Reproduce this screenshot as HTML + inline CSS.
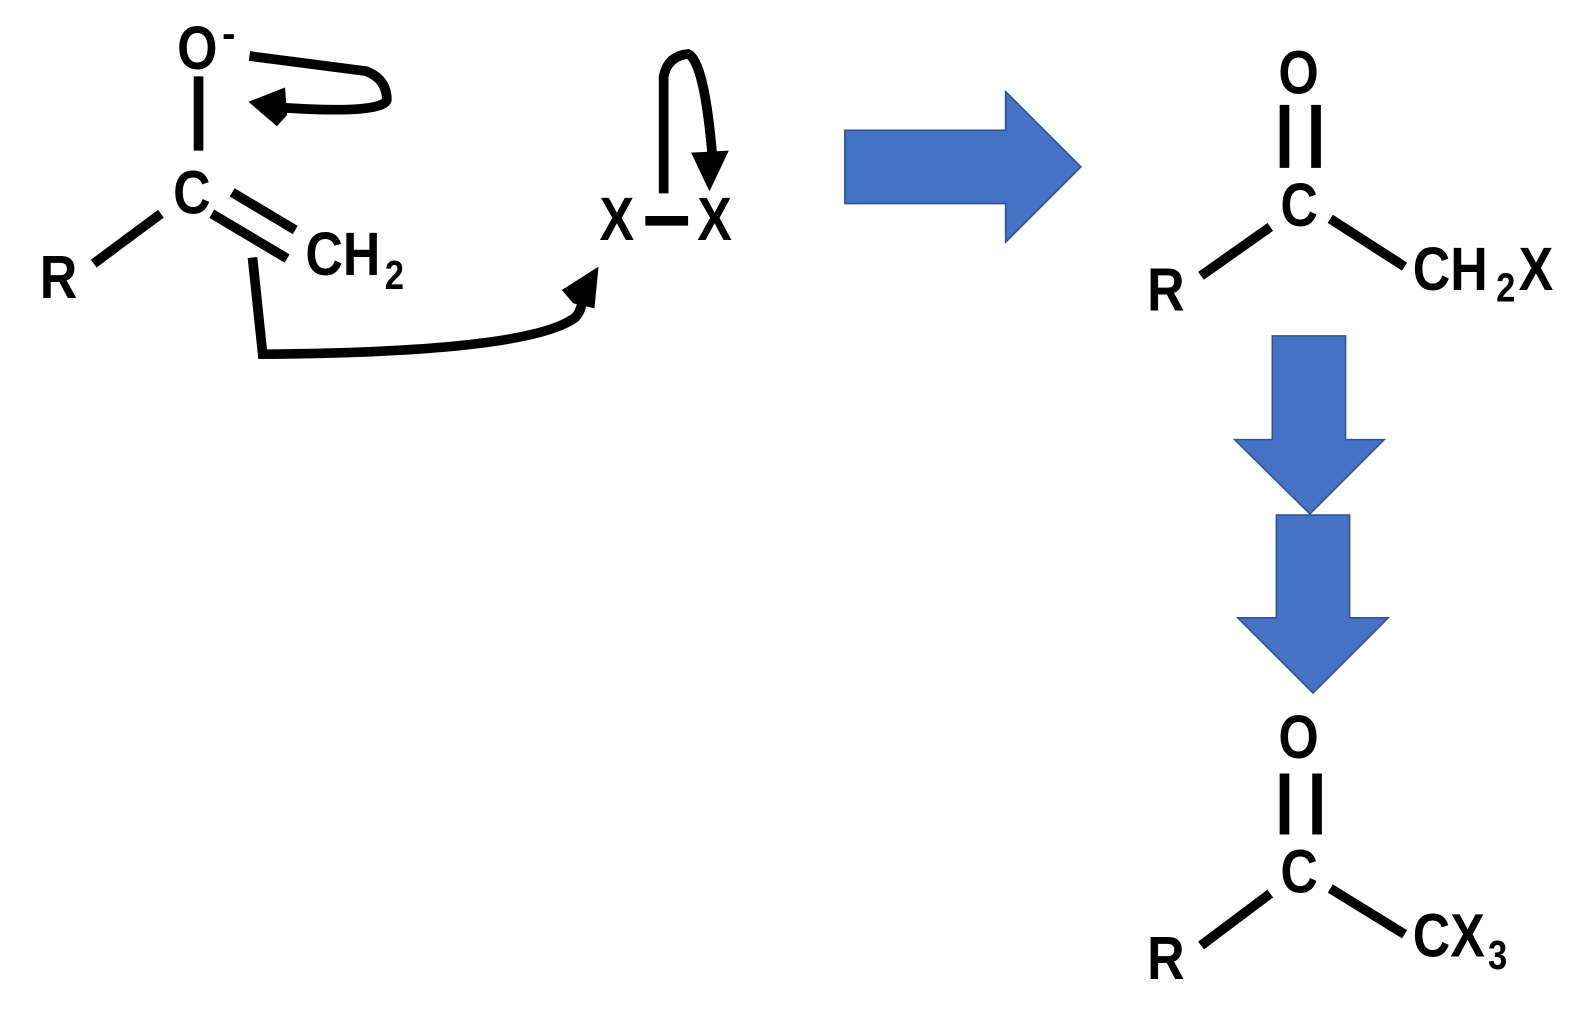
<!DOCTYPE html>
<html><head><meta charset="utf-8"><style>
html,body{margin:0;padding:0;background:#fff;}
svg{display:block;}
text{font-family:"Liberation Sans",sans-serif;font-weight:bold;fill:#000;}
</style></head><body>
<svg width="1596" height="1032" viewBox="0 0 1568 1014" xmlns="http://www.w3.org/2000/svg">
<g stroke="#000" stroke-width="9.5" fill="none">
<line x1="195" y1="75" x2="195" y2="148"/>
<line x1="92" y1="259" x2="158" y2="210"/>
<line x1="208" y1="210" x2="282" y2="254"/>
<line x1="228" y1="189" x2="290" y2="226"/>
<path d="M245 55 L360 70 Q380 78 380 98 Q376 112 280 106"/>
<path d="M248 253 L258 348 Q520 346 565 312 Q572 305 572 292"/>
<path d="M652 190 L652 75 Q656 55 676 53 Q692 60 700 155"/>
<line x1="634" y1="217" x2="676" y2="217"/>
<line x1="1262" y1="103" x2="1262" y2="165"/>
<line x1="1293" y1="103" x2="1293" y2="165"/>
<line x1="1180" y1="271" x2="1248" y2="223"/>
<line x1="1307" y1="215" x2="1380" y2="262"/>
<line x1="1262" y1="760" x2="1262" y2="820"/>
<line x1="1294" y1="760" x2="1294" y2="820"/>
<line x1="1180" y1="929" x2="1248" y2="878"/>
<line x1="1307" y1="873" x2="1380" y2="918"/>
</g>
<polygon points="244,100 280,86 282,113 272,124" fill="#000"/>
<polygon points="588,262 584,303 563,298 552,285" fill="#000"/>
<polygon points="697,188 679,150 716,148" fill="#000"/>
<g fill="#4472C4" stroke="#2F528F" stroke-width="1.5">
<polygon points="830,128 988,128 988,90 1062,164 988,238 988,200 830,200"/>
<polygon points="1250,330 1322,330 1322,432 1360,432 1287,505 1213,432 1250,432"/>
<polygon points="1254,506 1326,506 1326,607 1364,607 1290,681 1216,607 1254,607"/>
</g>
<g font-size="60">
<text transform="translate(174 68) scale(.85 1)">O</text>
<text transform="translate(170 210) scale(.85 1)">C</text>
<text transform="translate(39 293) scale(.85 1)">R</text>
<text transform="translate(300 270) scale(.85 1)">CH</text>
<text transform="translate(589 236) scale(.85 1)">X</text>
<text transform="translate(685 236) scale(.85 1)">X</text>
<text transform="translate(1256 92) scale(.85 1)">O</text>
<text transform="translate(1258 222) scale(.85 1)">C</text>
<text transform="translate(1127 305) scale(.85 1)">R</text>
<text transform="translate(1388 285) scale(.85 1)">CH</text>
<text transform="translate(1492 285) scale(.85 1)">X</text>
<text transform="translate(1256 745) scale(.85 1)">O</text>
<text transform="translate(1258 877) scale(.85 1)">C</text>
<text transform="translate(1127 962) scale(.85 1)">R</text>
<text transform="translate(1388 940) scale(.85 1)">CX</text>
</g>
<g font-size="40">
<text transform="translate(378 284) scale(.85 1)">2</text>
<text transform="translate(1470 296) scale(.85 1)">2</text>
<text transform="translate(1462 952) scale(.85 1)">3</text>
<text x="218" y="46">-</text>
</g>
</svg>
</body></html>
